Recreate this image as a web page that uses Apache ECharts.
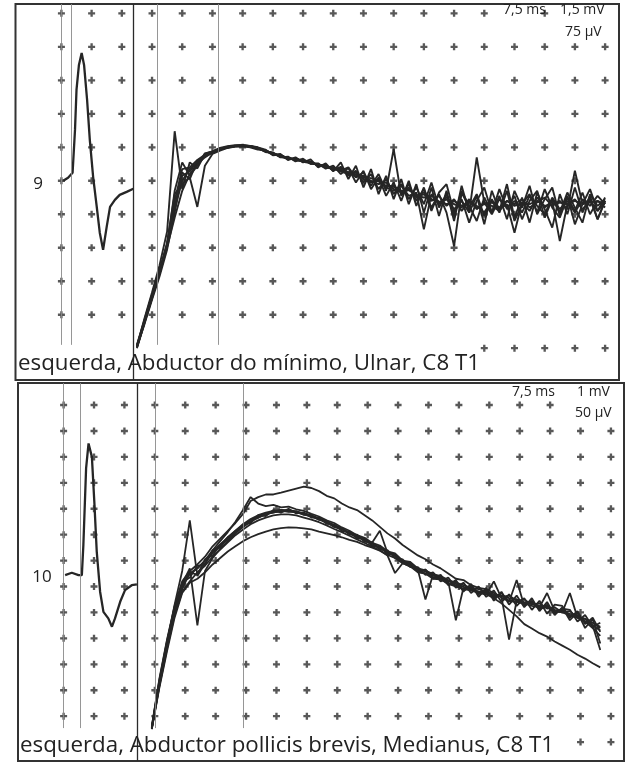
<!DOCTYPE html>
<html><head><meta charset="utf-8">
<script src="https://cdn.jsdelivr.net/npm/echarts@6/dist/echarts.min.js"></script>
<style>html,body{margin:0;padding:0;background:#fff}#c{width:633px;height:766px}</style>
</head><body><div id="c"></div><script>
// ---- grid of dots (divisions) ----
const gridCols = [0,1,2,3,4,5,6,7,8,9,10,11,12,13,14,15,16,17,18];
const topRows = [5,4,3,2,1,0,-1,-2,-3,-4,-5];
const botRows = [7,6,5,4,3,2,1,0,-1,-2,-3,-4,-5,-6];
// dots hidden behind texts [col,row]
const topHidden = [[15,5],[17,5],[18,5],[0,-5],[1,-5],[2,-5],[3,-5],[4,-5],[5,-5],[6,-5],[7,-5],[8,-5],[9,-5],[10,-5],[11,-5],[12,-5],[13,-5]];
const botHidden = [[17,7],[18,7],[0,-6],[1,-6],[2,-6],[3,-6],[4,-6],[5,-6],[6,-6],[7,-6],[8,-6],[9,-6],[10,-6],[11,-6],[12,-6],[13,-6],[14,-6],[15,-6],[16,-6]];
// cursor lines (x in divisions)
const topCursors = [0.0, 0.31, 3.16, 5.18];
const topMainCursor = 2.38;
const botCursors = [0.0, 0.54, 3.01, 5.9];
const botMainCursor = 2.41;

// ---- texts ----
const topName = "esquerda, Abductor do mínimo, Ulnar, C8 T1";
const botName = "esquerda, Abductor pollicis brevis, Medianus, C8 T1";
const topNum = "9", botNum = "10";
const topScale = ["7,5 ms", "1,5 mV", "75 µV"];
const botScale = ["7,5 ms", "1 mV", "50 µV"];

// ---- top panel: M-wave (1,5 mV/div) ----
const topMX = [0.06,0.22,0.37,0.45,0.50,0.58,0.67,0.75,0.85,0.94,1.05,1.17,1.27,1.38,1.50,1.61,1.77,1.93,2.16,2.38];
const topMY = [0,0.09,0.24,1.52,2.72,3.46,3.82,3.46,2.42,1.22,0.12,-0.78,-1.55,-2.06,-1.37,-0.78,-0.57,-0.42,-0.33,-0.24];

// ---- top panel: F-wave traces (75 µV/div), x from 2.5 div, step 0.25 div ----
const topStart = 2.5, topStep = 0.25;
const topTrace1 = [-4.96,-4.11,-3.34,-2.52,-1.51,1.48,-0.25,0.55,0.37,0.80,0.88,0.98,1.03,1.06,1.07,1.04,1.00,0.93,0.78,0.80,0.62,0.70,0.55,0.64,0.40,0.52,0.28,0.55,0.05,0.45,-0.20,0.35,-0.40,0.15,-0.55,0.05,-0.70,-0.10,-0.95,-0.20,-1.05,-0.30,-1.20,-0.15,-0.95,-0.45,-1.30,-0.30,-0.90,-0.10,-1.10,-0.50,-1.25,-0.35,-0.85,-1.40,-0.40,-1.00,-0.20,-0.95,-0.45,-1.15,-0.60];
const topTrace2 = [-4.96,-4.28,-3.55,-2.85,-2.05,-0.95,0.25,0.05,0.60,0.72,0.84,0.93,0.99,1.03,1.04,1.02,0.96,0.88,0.85,0.70,0.72,0.58,0.66,0.50,0.52,0.36,0.45,0.20,0.38,-0.05,0.30,-0.25,0.10,-0.45,-0.05,-0.60,0.00,-0.75,-0.20,-0.90,-0.35,-0.10,-0.95,-0.55,-1.25,-0.60,-0.20,-0.95,-0.45,-1.15,-0.30,-0.80,-0.15,-1.00,-0.55,-0.20,-1.05,-0.45,-1.30,-0.70,-0.25,-0.90,-0.50];
const topTrace3 = [-4.90,-4.15,-3.40,-2.68,-1.85,-0.40,-0.10,0.10,-0.78,0.45,0.80,0.90,0.98,1.02,1.03,1.00,0.93,0.92,0.76,0.78,0.64,0.68,0.56,0.58,0.44,0.47,0.30,0.42,0.15,0.30,-0.05,0.20,-0.25,0.05,-0.40,-0.10,-0.55,-0.20,-0.70,-0.05,-0.80,-0.40,-1.05,-0.30,-0.75,-1.20,-0.50,-0.95,-0.25,-0.85,-0.45,-1.15,-0.60,-0.30,-1.10,-0.55,-0.95,-0.35,-0.80,-1.25,-0.40,-0.75,-0.55];
const topTrace4 = [-5.00,-4.25,-3.50,-2.78,-1.98,-1.10,-0.30,0.20,0.50,0.70,0.85,0.94,1.00,1.03,1.05,1.04,0.99,0.86,0.83,0.72,0.66,0.65,0.58,0.56,0.46,0.44,0.35,0.30,0.40,0.10,0.25,-0.15,0.20,-0.30,0.95,-0.45,-0.10,-0.60,-0.25,-0.80,-0.40,-0.95,-1.95,-0.35,-0.80,-0.40,-1.05,-0.55,-0.95,-0.30,-1.20,-0.70,-0.40,-0.95,-0.25,-0.80,-1.10,-0.50,-0.90,-0.35,-1.00,-0.60,-0.80];
const topTrace5 = [-4.94,-4.18,-3.42,-2.70,-1.88,-0.60,0.35,0.40,0.62,0.78,0.87,0.96,1.02,1.05,1.06,1.03,0.97,0.89,0.80,0.75,0.69,0.61,0.59,0.55,0.47,0.40,0.40,0.28,0.20,0.25,0.05,-0.05,0.05,-0.20,-0.30,-0.15,-0.45,-0.35,-1.45,-0.40,-0.70,-0.55,-0.85,-0.60,-0.95,0.70,-0.65,-1.00,-0.55,-0.80,-0.60,-0.95,-0.45,-0.75,-1.00,-0.50,-0.85,-0.60,-0.95,-0.55,-0.75,-0.45,-0.70];
const topTrace6 = [-4.98,-4.24,-3.50,-2.75,-1.95,-0.85,0.00,0.35,0.55,0.74,0.85,0.94,1.00,1.04,1.05,1.02,0.97,0.90,0.80,0.76,0.67,0.64,0.62,0.52,0.49,0.43,0.34,0.38,0.22,0.20,0.12,0.00,-0.10,-0.05,-0.25,-0.35,-0.20,-0.50,-0.40,-0.60,-0.45,-0.75,-0.55,-0.90,-0.60,-0.75,-0.95,-0.60,-0.85,-0.70,-1.55,-0.65,-0.90,-0.50,-0.80,-0.60,-1.80,-0.70,-0.55,-0.85,-0.60,-0.90,-0.65];
const topTrace7 = [-4.92,-4.20,-3.45,-2.74,-1.93,-0.30,0.55,0.15,0.45,0.82,0.88,0.95,1.01,1.04,1.04,1.03,0.98,0.91,0.82,0.71,0.68,0.64,0.57,0.53,0.50,0.41,0.38,0.35,0.26,0.18,0.10,0.08,-0.02,-0.15,-0.18,-0.30,-0.25,-0.45,-0.35,-0.55,-0.65,-0.50,-0.70,-0.80,-0.55,-0.85,-0.65,-0.75,-0.90,-0.60,-0.70,-0.55,-0.80,-0.65,-0.50,-0.75,-0.60,-0.85,0.30,-0.70,-0.55,-1.15,-0.60];
const topTrace8 = [-4.97,-4.22,-3.48,-2.70,-1.90,-0.75,0.15,0.28,0.58,0.75,0.86,0.95,1.01,1.04,1.05,1.03,0.98,0.90,0.82,0.74,0.68,0.63,0.60,0.54,0.48,0.42,0.37,0.32,0.26,0.12,0.15,-0.02,0.00,-0.18,-0.15,-0.35,-0.28,-0.42,-0.50,-0.45,-0.62,-0.70,-0.60,-0.75,-0.65,-0.80,-0.70,-0.65,-0.80,-0.60,-0.75,-0.65,-0.70,-0.60,-0.75,-0.70,-0.65,-0.70,-0.60,-0.70,-0.65,-0.60,-0.70];

// ---- bottom panel: M-wave (1 mV/div) ----
const botMX = [0.05,0.27,0.49,0.60,0.65,0.74,0.82,0.93,1.01,1.09,1.20,1.31,1.47,1.59,1.69,1.86,2.02,2.24,2.41];
const botMY = [0.44,0.53,0.44,0.44,1.60,4.57,5.52,5.00,3.27,1.34,-0.20,-0.98,-1.23,-1.55,-1.23,-0.59,-0.14,0.05,0.08];

// ---- bottom panel: F-wave traces (50 µV/div), x from 2.9 div, step 0.25 div ----
const botStart = 2.9, botStep = 0.25;
const botTrace1 = [-5.40,-3.60,-2.10,-0.80,0.20,0.60,0.85,1.15,1.55,1.85,2.15,2.45,2.80,3.30,3.45,3.55,3.55,3.62,3.70,3.78,3.85,3.80,3.68,3.50,3.40,3.20,3.05,2.95,2.75,2.55,2.30,2.05,1.85,1.60,1.40,1.20,1.05,0.85,0.70,0.50,0.30,0.25,0.05,-0.05,-0.10,-0.25,-0.40,-0.35,-0.55,-0.50,-0.70,-0.65,-0.85,-0.80,-1.00,-0.95,-1.20,-1.25,-1.50,-1.70];
const botTrace2 = [-5.50,-3.90,-2.50,-1.20,-0.25,0.15,0.30,0.55,0.85,1.10,1.35,1.55,1.75,1.90,2.02,2.12,2.20,2.25,2.28,2.27,2.24,2.20,2.12,2.05,1.98,1.90,1.80,1.72,1.60,1.50,1.38,1.22,1.10,0.90,0.78,0.60,0.50,0.35,0.30,0.10,0.05,-0.10,-0.05,-0.25,-0.20,-0.40,-0.35,-0.55,-0.50,-0.70,-0.60,-0.85,-0.75,-1.00,-0.90,-1.15,-1.10,-1.35,-1.40,-1.60];
const botTrace3 = [-5.45,-3.70,-2.20,-0.70,0.60,2.55,0.40,0.90,1.30,1.60,1.90,2.15,2.40,2.60,2.75,2.85,2.92,2.96,2.95,2.90,2.82,2.75,2.62,2.52,2.35,2.25,2.05,1.98,1.75,1.70,2.15,1.30,1.25,0.95,0.90,0.60,0.65,0.35,0.40,0.10,0.20,-0.15,0.00,-0.30,-0.15,-0.45,-0.25,-0.60,0.25,-0.75,-0.55,-0.90,-0.70,-1.05,-0.85,-0.90,-1.35,-1.10,-1.55,-1.40];
const botTrace4 = [-5.48,-3.80,-2.35,-1.00,0.10,0.70,-1.50,0.60,1.10,1.45,1.75,2.05,2.30,2.50,2.66,2.78,2.86,2.90,2.90,2.86,2.78,2.70,2.58,2.47,2.30,2.20,2.05,1.90,1.80,1.60,1.50,1.30,1.20,0.95,0.85,0.65,-0.50,0.45,0.30,0.20,-1.30,-0.05,-0.10,-0.20,-0.25,-0.35,-0.40,-2.05,-0.55,-0.65,-0.65,-0.80,-0.80,-0.95,-1.00,-1.10,-1.20,-1.35,-1.60,-1.90];
const botTrace5 = [-5.44,-3.65,-2.15,-0.85,0.10,0.50,0.70,1.00,1.35,1.62,1.88,2.14,2.36,2.55,2.70,2.80,2.88,2.92,2.92,2.88,2.80,2.73,2.61,2.50,2.35,2.22,2.07,1.95,1.80,1.65,1.49,1.34,1.18,0.99,0.84,0.68,0.57,0.45,0.33,0.22,0.10,-0.01,-0.12,-0.20,-0.30,-0.45,-0.65,-0.90,-1.15,-1.45,-1.62,-1.80,-1.93,-2.12,-2.28,-2.44,-2.63,-2.78,-2.96,-3.12];
const botTrace6 = [-5.46,-3.75,-2.30,-0.95,-0.10,0.55,0.45,1.05,1.20,1.60,1.80,2.12,2.30,2.55,2.65,2.82,2.85,2.95,2.88,2.90,2.76,2.74,2.58,2.52,2.30,2.25,2.00,2.00,1.72,1.70,1.42,1.40,1.10,1.05,0.75,0.75,0.45,0.55,0.20,0.35,-0.05,0.15,-0.25,0.00,-0.40,-0.15,-0.60,-0.30,-0.75,-0.45,-0.90,-0.55,-1.05,-0.70,-0.75,-1.20,-0.95,-1.45,-1.20,-1.75];
const botTrace7 = [-5.40,-3.55,-2.05,-0.75,0.15,0.35,0.80,0.85,1.40,1.50,1.90,2.05,2.40,2.45,2.75,2.72,2.95,2.85,3.00,2.82,2.85,2.66,2.66,2.42,2.40,2.14,2.12,1.86,1.85,1.56,1.55,1.25,1.25,0.90,0.92,0.58,0.65,0.30,0.45,0.05,0.25,-0.20,0.10,-0.40,-0.05,-0.55,-0.20,-0.70,-0.35,-0.80,-0.45,-0.95,-0.60,-1.10,-0.80,-1.30,-1.00,-1.60,-1.25,-2.20];
const botTrace8 = [-5.47,-3.78,-2.28,-0.95,0.00,0.50,0.70,1.00,1.40,1.75,2.10,2.50,2.95,3.45,3.20,3.10,3.15,3.05,3.08,2.98,2.92,2.80,2.70,2.55,2.45,2.28,2.15,1.98,1.88,1.68,1.58,1.36,1.28,1.00,0.95,0.70,0.62,0.48,0.40,0.25,0.15,0.05,-0.05,-0.10,-0.20,-0.30,-0.35,-0.45,-0.50,-0.60,-0.65,-0.75,-0.80,-0.90,-0.95,-1.05,-1.15,-1.25,-1.40,-1.55];
const botTrace9 = [-5.50,-3.85,-2.40,-1.10,-0.20,0.20,0.55,0.80,1.15,1.42,1.70,1.98,2.20,2.40,2.55,2.66,2.74,2.78,2.78,2.74,2.66,2.58,2.48,2.36,2.22,2.10,1.96,1.82,1.68,1.54,1.40,1.20,0.52,0.90,0.78,0.55,0.50,0.30,0.28,0.10,0.00,-0.10,-0.15,-0.25,-0.30,0.20,-0.45,-0.55,-0.60,-0.65,-0.75,-0.80,-0.25,-0.95,-1.00,-0.25,-1.20,-1.35,-1.50,-2.45];

const topTraces = [topTrace1,topTrace2,topTrace3,topTrace4,topTrace5,topTrace6,topTrace7,topTrace8];
const botTraces = [botTrace1,botTrace2,botTrace3,botTrace4,botTrace5,botTrace6,botTrace7,botTrace8,botTrace9];

const INK = '#262626';
const plus = 'path://M2,0H4V2H6V4H4V6H2V4H0V2H2Z';

function dots(rows, hidden) {
  const out = [];
  rows.forEach(r => gridCols.forEach(c => {
    if (!hidden.some(h => h[0] === c && h[1] === r)) out.push([c, r]);
  }));
  return out;
}
function traceSeries(g, start, step, ys, w) {
  return {type:'line', xAxisIndex:g, yAxisIndex:g, symbol:'none', silent:true, animation:false,
    data: ys.map((v,i)=>[start + step*i, v]), lineStyle:{color:INK, width:w}, z:4};
}
function pairSeries(g, xs, ys, w, main) {
  return {type:'line', xAxisIndex:g, yAxisIndex:g, symbol:'none', silent:true, animation:false,
    data: xs.map((x,i)=>[x, ys[i]]), lineStyle:{color:INK, width:w}, z:4,
    markLine:{symbol:'none', silent:true, animation:false, label:{show:false},
      lineStyle:{color:'#2a2a2a', width:1.3, type:'solid'}, data:[{xAxis: main}]}};
}
function cursorSeries(g, cols, ytop, ybot, dotData) {
  return {type:'scatter', xAxisIndex:g, yAxisIndex:g, silent:true, animation:false,
    symbol: plus, symbolSize: 7, itemStyle:{color:'#2e2e2e'}, data: dotData, z:2,
    markLine:{symbol:'none', silent:true, animation:false, label:{show:false},
      lineStyle:{color:'#8a8a8a', width:0.9, type:'solid'},
      data: cols.map(x => [{coord:[x, ytop]}, {coord:[x, ybot]}])}};
}

const series = [];
series.push(cursorSeries(0, topCursors, 5.28, -4.9, dots(topRows, topHidden)));
series.push(cursorSeries(1, botCursors, 7.85, -5.46, dots(botRows, botHidden)));
series.push(pairSeries(0, topMX, topMY, 2.3, topMainCursor));
series.push(pairSeries(1, botMX, botMY, 2.3, botMainCursor));
topTraces.forEach(t => series.push(traceSeries(0, topStart, topStep, t, 1.9)));
botTraces.forEach(t => series.push(traceSeries(1, botStart, botStep, t, 1.8)));

function txt(x, y, s, size, align) {
  return {type:'text', x:x, y:y, z:50, silent:true,
    style:{text:s, font: size + 'px "Open Sans", sans-serif', fill:'#222',
      textAlign: align || 'left', textVerticalAlign:'middle'}};
}

const chart = echarts.init(document.getElementById('c'), null, {renderer:'canvas'});
chart.setOption({
  animation:false,
  backgroundColor:'#ffffff',
  grid:[
    {left:15.5, top:4, width:603.5, height:376, show:true, borderColor:'#333', borderWidth:2, backgroundColor:'#fff'},
    {left:18, top:383, width:606, height:378, show:true, borderColor:'#333', borderWidth:2, backgroundColor:'#fff'}
  ],
  xAxis:[
    {type:'value', gridIndex:0, min:-1.52, max:18.46, show:false},
    {type:'value', gridIndex:1, min:-1.5, max:18.43, show:false}
  ],
  yAxis:[
    {type:'value', gridIndex:0, min:-5.95, max:5.28, show:false},
    {type:'value', gridIndex:1, min:-6.73, max:7.85, show:false}
  ],
  series: series,
  graphic:[
    txt(38, 184, topNum, 17, 'center'),
    txt(42, 577, botNum, 17, 'center'),
    txt(18, 364, topName, 22.3),
    txt(20, 746, botName, 22.3),
    txt(503, 10, topScale[0], 14),
    txt(560, 10, topScale[1], 14),
    txt(565, 32, topScale[2], 14),
    txt(512, 392, botScale[0], 14),
    txt(577, 392, botScale[1], 14),
    txt(575, 413, botScale[2], 14)
  ]
});
</script></body></html>
